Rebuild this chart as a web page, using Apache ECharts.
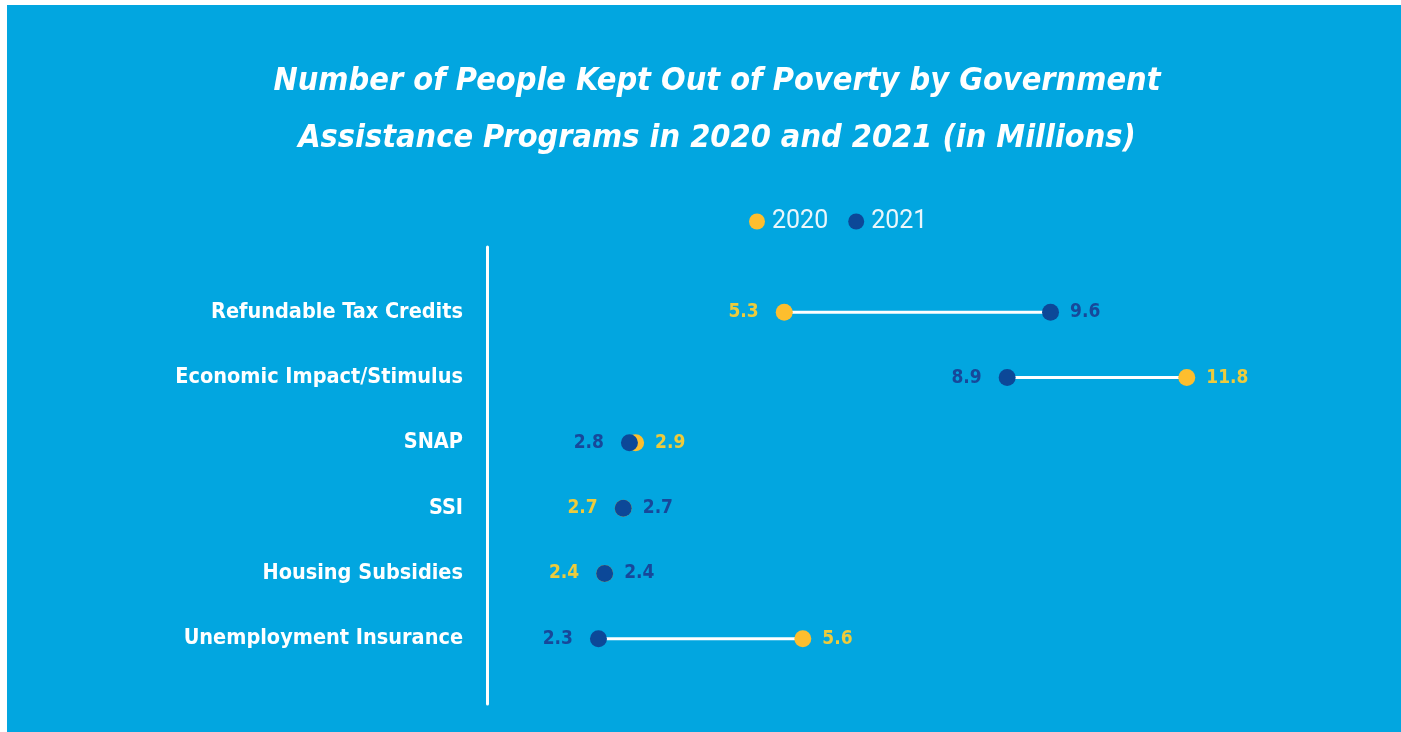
<!DOCTYPE html>
<html>
<head>
<meta charset="utf-8">
<script src="https://cdn.jsdelivr.net/npm/echarts@6/dist/echarts.min.js"></script>
<style>
html,body{margin:0;padding:0;background:#ffffff;width:1401px;height:732px;overflow:hidden;}
#chart{position:absolute;left:7px;top:5px;width:1394px;height:727px;}
</style>
</head>
<body>
<div id="chart"></div>
<script>
const titleText = 'Number of People Kept Out of Poverty by Government\nAssistance Programs in 2020 and 2021 (in Millions)';
const categories = ['Refundable Tax Credits', 'Economic Impact/Stimulus', 'SNAP', 'SSI', 'Housing Subsidies', 'Unemployment Insurance'];
const values2020 = [5.3, 11.8, 2.9, 2.7, 2.4, 5.6];
const values2021 = [9.6, 8.9, 2.8, 2.7, 2.4, 2.3];
const seriesNames = ['2020', '2021'];

const FONT = '"Liberation Sans Narrow", "DejaVu Sans Condensed", "Roboto", sans-serif';
const BG = '#02A6E0';
const YELLOW = '#FDBE2E';
const YELLOW_TXT = '#EDCB3C';
const NAVY = '#0C4898';
const NAVY_TXT = '#17489A';

// padded category axis so the axis line extends above/below the rows
const yCats = [''].concat(categories, ['']);

function pointData(vals, other, isFirst, txtColor) {
  return vals.map((v, i) => {
    const o = other[i];
    const onLeft = isFirst ? v <= o : v < o;
    return {
      value: [v, categories[i]],
      label: {
        show: true,
        position: onLeft ? 'left' : 'right',
        distance: onLeft ? 17 : 11,
        color: txtColor,
        fontFamily: FONT,
        fontWeight: 'bold',
        fontSize: 19,
        formatter: (p) => p.value[0].toFixed(1)
      }
    };
  });
}

const chart = echarts.init(document.getElementById('chart'), null, {renderer: 'canvas'});
chart.setOption({
  backgroundColor: BG,
  animation: false,
  title: {
    text: titleText,
    left: 705,
    top: 43,
    textAlign: 'center',
    textStyle: {
      color: '#ffffff',
      fontFamily: FONT,
      fontStyle: 'italic',
      fontWeight: 'bold',
      fontSize: 32.2,
      lineHeight: 57
    }
  },
  legend: {
    top: 199,
    left: 737,
    itemWidth: 16,
    itemHeight: 16,
    itemGap: 20,
    icon: 'circle',
    data: seriesNames,
    textStyle: {color: '#EAF6FB', fontFamily: 'Roboto', fontSize: 25, padding: [0, 0, 0, 2]}
  },
  grid: {left: 480, right: 78, top: 242, bottom: 28, containLabel: false},
  xAxis: {
    type: 'value', min: 0.5, max: 14,
    show: false
  },
  yAxis: {
    type: 'category',
    data: yCats,
    inverse: true,
    boundaryGap: false,
    axisLine: {show: true, lineStyle: {color: '#ffffff', width: 3}},
    axisTick: {show: false},
    splitLine: {show: false},
    axisLabel: {
      color: '#ffffff', fontFamily: FONT, fontWeight: 'bold', fontSize: 21.5, margin: 24
    }
  },
  series: [
    {
      type: 'custom',
      silent: true,
      z: 1,
      data: categories.map((c, i) => [values2020[i], values2021[i], c]),
      renderItem: function (params, api) {
        const a = api.coord([api.value(0), api.value(2)]);
        const b = api.coord([api.value(1), api.value(2)]);
        return {
          type: 'line',
          shape: {x1: a[0], y1: a[1], x2: b[0], y2: b[1]},
          style: {stroke: '#ffffff', lineWidth: 3}
        };
      },
      encode: {x: [0, 1], y: 2}
    },
    {
      name: '2020',
      type: 'scatter',
      symbol: 'circle',
      symbolSize: 17,
      z: 2,
      itemStyle: {color: YELLOW, opacity: 1},
      data: pointData(values2020, values2021, true, YELLOW_TXT)
    },
    {
      name: '2021',
      type: 'scatter',
      symbol: 'circle',
      symbolSize: 17,
      z: 3,
      itemStyle: {color: NAVY, opacity: 1},
      data: pointData(values2021, values2020, false, NAVY_TXT)
    }
  ]
});
</script>
</body>
</html>
